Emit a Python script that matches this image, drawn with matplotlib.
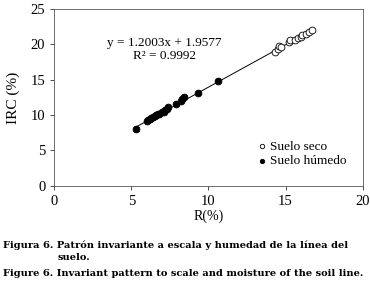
import matplotlib.pyplot as plt
import numpy as np

plt.rcParams['font.family'] = ['Liberation Serif', 'DejaVu Serif']

# Suelo seco (open circles)
seco_x = [14.3, 14.5, 14.6, 14.7, 15.2, 15.3, 15.6, 15.8, 16.0, 16.1, 16.3, 16.5, 16.7]
seco_y = [18.9, 19.4, 19.8, 19.6, 20.3, 20.6, 20.7, 20.9, 21.1, 21.3, 21.5, 21.7, 22.0]

# Suelo húmedo (filled circles)
humedo_x = [5.3, 6.0, 6.1, 6.2, 6.3, 6.4, 6.5, 6.6, 6.7, 6.8, 7.0, 7.1, 7.2, 7.3, 7.4, 7.9, 8.2, 8.3, 8.4, 9.3, 10.6]
humedo_y = [8.1, 9.1, 9.3, 9.4, 9.6, 9.7, 9.8, 10.0, 10.1, 10.2, 10.4, 10.5, 10.7, 10.9, 11.2, 11.6, 12.0, 12.3, 12.5, 13.1, 14.8]

slope = 1.2003
intercept = 1.9577

fig = plt.figure(figsize=(3.7, 2.87), dpi=100)
ax = fig.add_axes([0.147, 0.353, 0.833, 0.615])

xl = np.array([5.3, 16.7])
ax.plot(xl, slope * xl + intercept, color='black', lw=0.7, zorder=1)
ax.scatter(humedo_x, humedo_y, s=24, facecolor='black', edgecolor='black',
           linewidth=0.6, zorder=2, label='Suelo húmedo')
ax.scatter(seco_x, seco_y, s=24, facecolor='white', edgecolor='black',
           linewidth=0.6, zorder=3, label='Suelo seco')

ax.set_xlim(0, 20)
ax.set_ylim(0, 25)
ax.set_xticks([0, 5, 10, 15, 20])
ax.set_yticks([0, 5, 10, 15, 20, 25])
ax.tick_params(labelsize=10.5, length=3, width=0.6, direction='out', colors='#333333')
ax.tick_params(labelcolor='black')
for sp in ax.spines.values():
    sp.set_linewidth(0.6)
    sp.set_color('#555555')

ax.set_xlabel('R(%)', fontsize=10, labelpad=1)
ax.set_ylabel('IRC (%)', fontsize=11, labelpad=8)

ax.text(0.356, 0.77, 'y = 1.2003x + 1.9577\nR² = 0.9992', transform=ax.transAxes,
        fontsize=9.5, ha='center', va='center', linespacing=1.1)

h, l = ax.get_legend_handles_labels()
ax.legend(h[::-1], l[::-1], loc='upper left', bbox_to_anchor=(0.63, 0.285),
          frameon=False, fontsize=9.5, handletextpad=0.0, markerscale=0.65,
          borderaxespad=0, labelspacing=0.15, handlelength=1.2)

cap = dict(fontsize=7.1, fontweight='bold', ha='left', va='center',
           family='DejaVu Serif')
fig.text(0.008, 1 - 245 / 287, 'Figura 6. Patrón invariante a escala y humedad de la línea del', **cap)
fig.text(0.157, 1 - 258 / 287, 'suelo.', **cap)
fig.text(0.008, 1 - 273 / 287, 'Figure 6. Invariant pattern to scale and moisture of the soil line.', **cap)

fig.savefig('out.png', dpi=100)
